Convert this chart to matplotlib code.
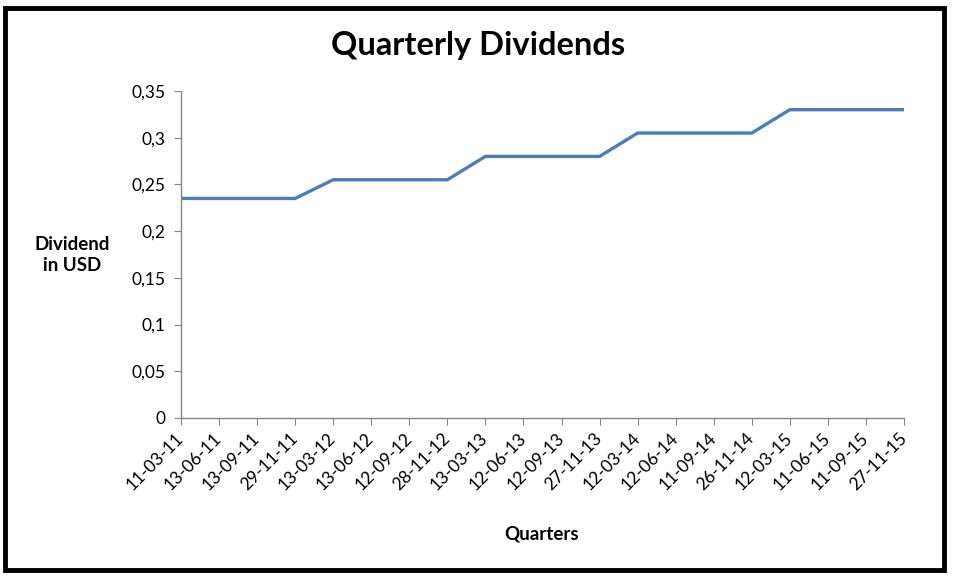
import matplotlib
matplotlib.use("Agg")
import matplotlib.pyplot as plt
from matplotlib.patches import Rectangle
from matplotlib.ticker import FuncFormatter

# data
quarters = ["11-03-11", "13-06-11", "13-09-11", "29-11-11",
            "13-03-12", "13-06-12", "12-09-12", "28-11-12",
            "13-03-13", "12-06-13", "12-09-13", "27-11-13",
            "12-03-14", "12-06-14", "11-09-14", "26-11-14",
            "12-03-15", "11-06-15", "11-09-15", "27-11-15"]
dividends = [0.235, 0.235, 0.235, 0.235,
             0.255, 0.255, 0.255, 0.255,
             0.28, 0.28, 0.28, 0.28,
             0.305, 0.305, 0.305, 0.305,
             0.33, 0.33, 0.33, 0.33]
y_ticks = [0, 0.05, 0.1, 0.15, 0.2, 0.25, 0.3, 0.35]

plt.rcParams["font.family"] = ["Lato", "DejaVu Sans"]

W, H = 957, 579
fig = plt.figure(figsize=(W / 100, H / 100), dpi=100)
ax = fig.add_axes([181 / W, 1 - 418 / H, (904 - 181) / W, (418 - 91) / H])

x = list(range(len(quarters)))
ax.plot(x, dividends, color="#4A7EBB", linewidth=2.4, solid_joinstyle="miter")

ax.set_xlim(0, len(quarters) - 1)
ax.set_ylim(0, 0.35)
ax.set_yticks(y_ticks)
ax.yaxis.set_major_formatter(FuncFormatter(lambda v, p: ("%g" % round(v, 2)).replace(".", ",")))
ax.set_xticks(x)
ax.set_xticklabels(quarters, rotation=45, ha="right", va="center", rotation_mode="anchor")

for s in ["top", "right"]:
    ax.spines[s].set_visible(False)
for s in ["left", "bottom"]:
    ax.spines[s].set_color("#868686")
    ax.spines[s].set_linewidth(1)
ax.tick_params(axis="both", direction="out", length=5, color="#868686",
               labelsize=12.5, labelcolor="black")
ax.tick_params(axis="y", pad=6)
ax.tick_params(axis="x", pad=8)

fig.text(478 / W, 1 - 45 / H, "Quarterly Dividends", ha="center", va="center",
         fontsize=23.5, fontweight="bold")
fig.text(72 / W, 1 - 255 / H, "Dividend\nin USD", ha="center", va="center",
         fontsize=13.5, fontweight="bold", linespacing=1.3)
fig.text(542 / W, 1 - 534 / H, "Quarters", ha="center", va="center",
         fontsize=13.5, fontweight="bold")

# black frame round the chart
fig.patches.append(Rectangle((5 / W, 1 - 570 / H), (944 - 5) / W, (570 - 8) / H,
                             transform=fig.transFigure, fill=False,
                             edgecolor="black", linewidth=3.5))

fig.savefig("out.png", dpi=100)
